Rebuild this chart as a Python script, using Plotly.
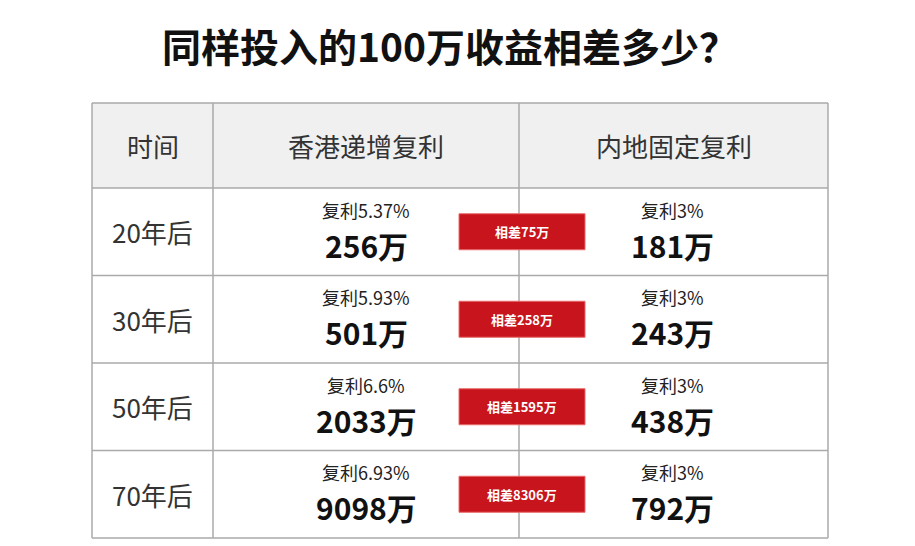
import plotly.graph_objects as go

title = "同样投入的100万收益相差多少？"
headers = ["时间", "香港递增复利", "内地固定复利"]
periods = ["20年后", "30年后", "50年后", "70年后"]
hk_rates = ["复利5.37%", "复利5.93%", "复利6.6%", "复利6.93%"]
hk_values = [256, 501, 2033, 9098]
cn_rates = ["复利3%", "复利3%", "复利3%", "复利3%"]
cn_values = [181, 243, 438, 792]
diffs = [75, 258, 1595, 8306]

W, H = 915, 546
OFF = 8  # page body offset
x0, x1, x2, x3 = 92 - OFF, 213 - OFF, 519 - OFF, 828 - OFF
ytop, yhead = 103 - OFF, 188 - OFF
rowh = 87.5
font = "Noto Sans CJK SC"

fig = go.Figure()
shapes, ann = [], []
shapes.append(dict(type="rect", x0=x0, x1=x3, y0=ytop, y1=yhead, fillcolor="#f0f0f0", line_width=0, layer="below"))
yend = yhead + rowh * len(periods)
for i in range(len(periods) + 2):
    y = ytop if i == 0 else yhead + rowh * (i - 1)
    shapes.append(dict(type="line", x0=x0, x1=x3, y0=y, y1=y, line=dict(color="#aaaaaa", width=1.5)))
for x in (x0, x1, x2, x3):
    shapes.append(dict(type="line", x0=x, x1=x, y0=ytop, y1=yend, line=dict(color="#aaaaaa", width=1.5)))

ann.append(dict(x=W / 2 - 8 - OFF, y=45 - OFF, text="<b>" + title + "</b>", font=dict(size=39, color="#111", family=font), showarrow=False))
for cx, h in zip([(x0 + x1) / 2, (x1 + x2) / 2, (x2 + x3) / 2], headers):
    ann.append(dict(x=cx, y=(ytop + yhead) / 2, text=h, font=dict(size=26, color="#333", family=font), showarrow=False))

for i, p in enumerate(periods):
    yc = yhead + rowh * i + rowh / 2
    ann.append(dict(x=(x0 + x1) / 2, y=yc, text=p, font=dict(size=26, color="#333", family=font), showarrow=False))
    for cx, r, v in [(366 - OFF, hk_rates[i], hk_values[i]), (672 - OFF, cn_rates[i], cn_values[i])]:
        ann.append(dict(x=cx, y=yc - 22, text=r, font=dict(size=18, color="#222", family=font), showarrow=False))
        ann.append(dict(x=cx, y=yc + 13, text="<b>%d万</b>" % v, font=dict(size=30, color="#111", family=font), showarrow=False))
    shapes.append(dict(type="rect", x0=459 - OFF, x1=585 - OFF, y0=yc - 18, y1=yc + 18, fillcolor="#c8141c",
                       line=dict(color="#e86a6a", width=1)))
    ann.append(dict(x=522 - OFF, y=yc, text="<b>相差%d万</b>" % diffs[i], font=dict(size=13, color="white", family=font), showarrow=False))

fig.update_layout(width=W, height=H, margin=dict(l=0, r=0, t=0, b=0), paper_bgcolor="white", plot_bgcolor="white",
                  xaxis=dict(range=[0, W], visible=False), yaxis=dict(range=[H, 0], visible=False),
                  shapes=shapes, annotations=ann, showlegend=False)
fig.write_html("out.html")
